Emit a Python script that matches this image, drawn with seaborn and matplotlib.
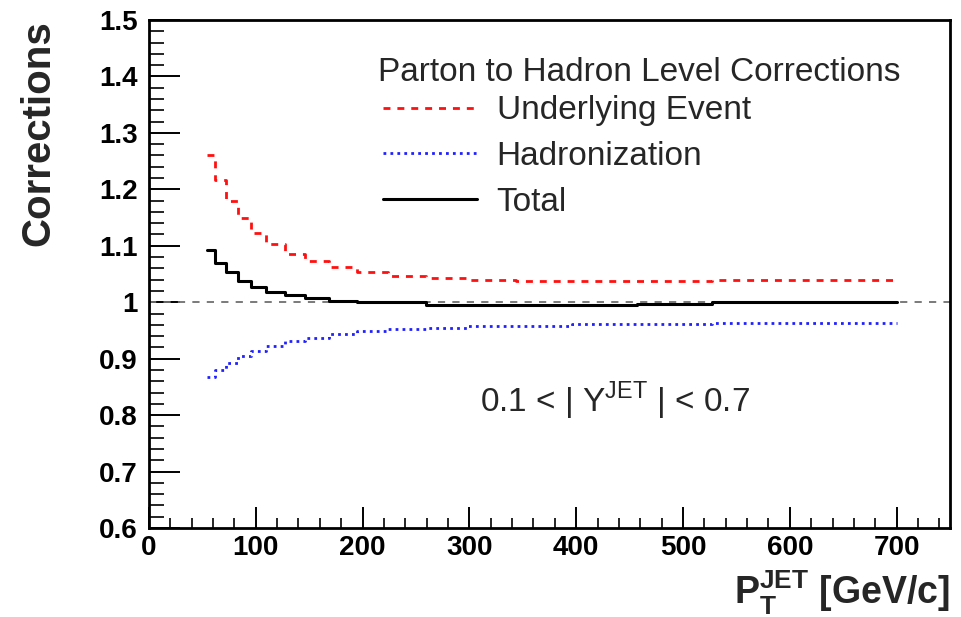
import numpy as np
import pandas as pd
import matplotlib
matplotlib.use('Agg')
import matplotlib.pyplot as plt
from matplotlib.ticker import MultipleLocator, FixedLocator, FixedFormatter
import seaborn as sns

# jet pT bin edges [GeV/c]
pt_edges = [54, 62, 72, 83, 96, 110, 127, 146, 169, 195, 224, 259,
            298, 344, 396, 457, 527, 700]

# corrections per bin
ue_corr = [1.260, 1.216, 1.179, 1.150, 1.123, 1.104, 1.086, 1.073, 1.062,
           1.053, 1.047, 1.043, 1.040, 1.037, 1.037, 1.037, 1.039]
had_corr = [0.867, 0.880, 0.893, 0.904, 0.913, 0.923, 0.931, 0.937, 0.944,
            0.949, 0.953, 0.955, 0.958, 0.958, 0.961, 0.961, 0.963]
tot_corr = [1.092, 1.070, 1.053, 1.038, 1.027, 1.019, 1.012, 1.007, 1.003,
            1.000, 1.000, 0.995, 0.995, 0.995, 0.995, 0.997, 1.000]

ytick_vals = [0.6, 0.7, 0.8, 0.9, 1.0, 1.1, 1.2, 1.3, 1.4, 1.5]
ytick_labels = ['0.6', '0.7', '0.8', '0.9', '1', '1.1', '1.2', '1.3', '1.4', '1.5']
xtick_vals = [0, 100, 200, 300, 400, 500, 600, 700]

sns.set_style('white')
plt.rcParams['font.family'] = ['Liberation Sans', 'DejaVu Sans']
plt.rcParams['mathtext.fontset'] = 'custom'
plt.rcParams['mathtext.rm'] = 'Liberation Sans'
plt.rcParams['mathtext.bf'] = 'Liberation Sans:bold'


def step_frame(vals):
    # repeat last value at the last edge for steps-post drawing
    return pd.DataFrame({'pt': pt_edges, 'corr': list(vals) + [vals[-1]]})


fig = plt.figure(figsize=(9.61, 6.17), dpi=100)
ax = fig.add_axes([0.155, 0.1442, 0.8336, 0.8234])

ax.axhline(1.0, color='#707070', lw=1.3, ls=(0, (4, 4)), zorder=1)

sns.lineplot(data=step_frame(ue_corr), x='pt', y='corr', ax=ax, estimator=None,
             drawstyle='steps-post', color='#ff1010', lw=2.0,
             linestyle=(0, (2.5, 2.5)), label='Underlying Event')
sns.lineplot(data=step_frame(had_corr), x='pt', y='corr', ax=ax, estimator=None,
             drawstyle='steps-post', color='#2020ff', lw=2.0,
             linestyle=(0, (1, 1.5)), label='Hadronization')
sns.lineplot(data=step_frame(tot_corr), x='pt', y='corr', ax=ax, estimator=None,
             drawstyle='steps-post', color='black', lw=2.2,
             linestyle='-', label='Total')

ax.set_xlim(0, 750)
ax.set_ylim(0.6, 1.5)

ax.xaxis.set_major_locator(FixedLocator(xtick_vals))
ax.xaxis.set_minor_locator(MultipleLocator(20))
ax.yaxis.set_major_locator(FixedLocator(ytick_vals))
ax.yaxis.set_major_formatter(FixedFormatter(ytick_labels))
ax.yaxis.set_minor_locator(MultipleLocator(0.02))

ax.tick_params(which='both', bottom=True, left=True, top=False, right=False,
               colors='black')
ax.tick_params(axis='x', which='major', direction='in', length=15, width=1.4,
               pad=5, labelsize=20)
ax.tick_params(axis='x', which='minor', direction='in', length=7.5, width=1.2)
ax.tick_params(axis='y', which='major', direction='in', length=22, width=1.4,
               pad=8, labelsize=20)
ax.tick_params(axis='y', which='minor', direction='in', length=11, width=1.2)
for lab in ax.get_xticklabels() + ax.get_yticklabels():
    lab.set_fontweight('bold')

for sp in ax.spines.values():
    sp.set_linewidth(2.0)
    sp.set_color('black')

ax.set_xlabel(r'$\mathbf{P}_\mathbf{T}^\mathbf{JET}$ [GeV/c]', fontsize=27,
              fontweight='bold', loc='right', labelpad=6)
ax.set_ylabel('Corrections', fontsize=29, fontweight='bold', loc='top',
              labelpad=30)

# legend header drawn as plain text, entries below it
ax.text(214, 1.407, 'Parton to Hadron Level Corrections', fontsize=24,
        va='center', ha='left')
leg = ax.legend(loc='upper left', bbox_to_anchor=(0.276, 0.878),
                frameon=False, fontsize=24, handlelength=2.8,
                handletextpad=0.6, labelspacing=0.445, borderaxespad=0)

ax.text(310, 0.826, r'0.1 < | Y$^{\mathrm{JET}}$ | < 0.7', fontsize=24,
        va='center', ha='left')

fig.savefig('out.png', dpi=100)
